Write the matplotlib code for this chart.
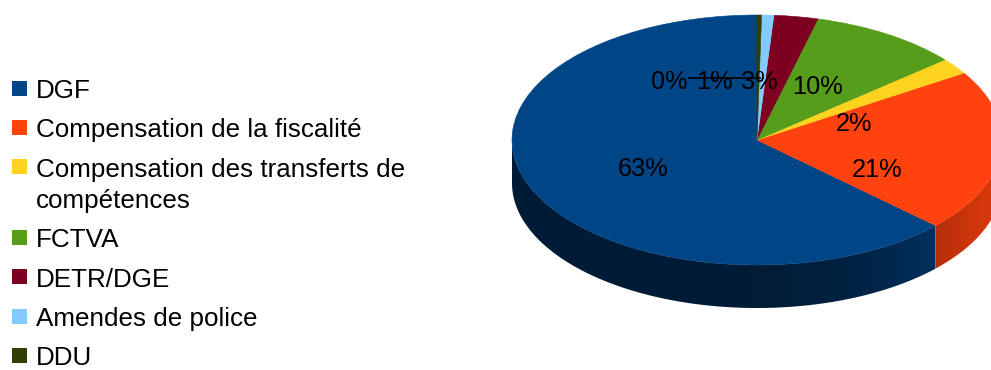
import numpy as np
import matplotlib
matplotlib.use('Agg')
import matplotlib.pyplot as plt
from matplotlib.patches import Polygon, Rectangle
from matplotlib.colors import to_rgb

plt.rcParams['font.family'] = ['Liberation Sans', 'DejaVu Sans']

categories = ['DGF', 'Compensation de la fiscalité',
              'Compensation des transferts de\ncompétences',
              'FCTVA', 'DETR/DGE', 'Amendes de police', 'DDU']
values = [63.0, 21.0, 2.1, 9.9, 2.9, 0.8, 0.3]
colors = ['#004586', '#ff420e', '#ffd320', '#579d1c', '#7e0021', '#83caff', '#314004']

# where each percentage is written (pixels from top-left)
label_px = [(643, 167), (877, 168), (854, 122), (817, 85), (759, 80), (714, 80), (669, 80)]

W, H = 991, 370
cx, cy = 757, 140      # pie centre
rx, ry = 245, 125      # ellipse radii of the top face
depth = 43             # thickness of the disc


def to_data(px, py):
    return (px - cx) / rx, (cy - py) / ry


def shade_factor(t):
    return 0.40 + 0.45 * np.clip(np.cos(np.radians(t - 345)), 0, None) ** 3


fig = plt.figure(figsize=(W / 100, H / 100), dpi=100)
ax = fig.add_axes([0, 0, 1, 1])

wedges, _ = ax.pie(values, colors=colors, startangle=90, counterclock=True,
                   radius=1, wedgeprops={'linewidth': 0.4})
for w in wedges:
    w.set_edgecolor(w.get_facecolor())
    w.set_zorder(3)

# front wall of the disc: one polygon per slice, filled with a light gradient
d = depth / ry
for w, col in zip(wedges, colors):
    for lo, hi in [(180, 360), (540, 720)]:
        a0, a1 = max(w.theta1, lo), min(w.theta2, hi)
        if a1 <= a0:
            continue
        t = np.radians(np.linspace(a0, a1, 200))
        top = np.column_stack([np.cos(t), np.sin(t)])
        bottom = top[::-1] - [0, d]
        wall = Polygon(np.vstack([top, bottom]), closed=True, facecolor='none',
                       edgecolor='none', zorder=2)
        ax.add_patch(wall)
        xs = np.linspace(top[:, 0].min(), top[:, 0].max(), 400)
        ang = 360 - np.degrees(np.arccos(np.clip(xs, -1, 1)))
        grad = shade_factor(ang)[None, :, None] * np.array(to_rgb(col))[None, None, :]
        img = ax.imshow(grad, extent=(xs[0], xs[-1], -1 - d, 0.1), aspect='auto',
                        interpolation='bilinear', zorder=2)
        img.set_clip_path(wall)

total = sum(values)
for v, (px, py) in zip(values, label_px):
    x, y = to_data(px, py + 9)
    ax.text(x, y, f'{round(100 * v / total)}%', fontsize=18.3, ha='center',
            va='baseline', color='black', zorder=4)

# leader line for the three small slices
lx0, ly = to_data(689, 78)
lx1, _ = to_data(760, 78)
ax.plot([lx0, lx1], [ly, ly], color='black', linewidth=1.2, zorder=5)

ax.set_xlim(-cx / rx, (W - cx) / rx)
ax.set_ylim((cy - H) / ry, cy / ry)
ax.set_aspect('auto')
ax.axis('off')

# legend on the left
lax = fig.add_axes([0, 0, 1, 1])
lax.set_xlim(0, W)
lax.set_ylim(H, 0)
lax.axis('off')
baseline = 98
for name, col in zip(categories, colors):
    lax.add_patch(Rectangle((12, baseline - 17.5), 15, 15, facecolor=col,
                            edgecolor='none'))
    for i, line in enumerate(name.split('\n')):
        lax.text(36, baseline + i * 31.5, line, fontsize=18.7, va='baseline',
                 ha='left', color='black')
    baseline += 39.3 + 31.5 * name.count('\n')

fig.savefig('out.png', dpi=100)
